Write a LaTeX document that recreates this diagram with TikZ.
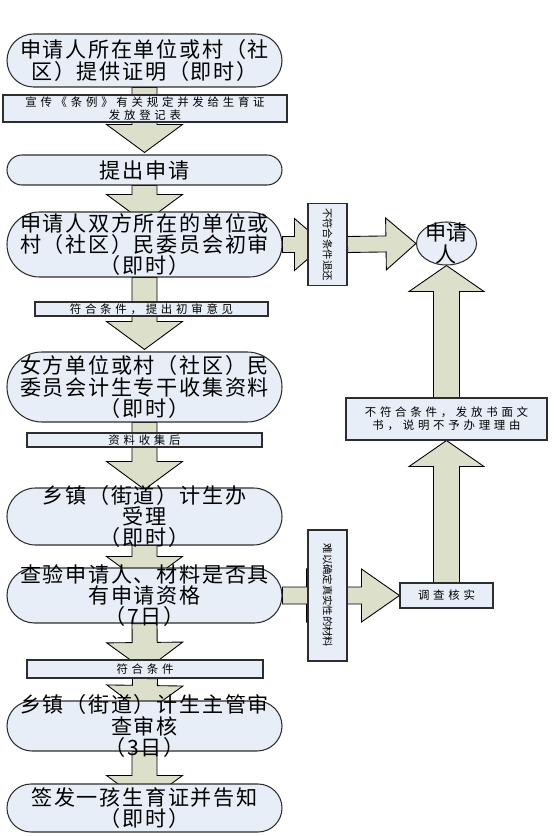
\documentclass[tikz,border=0pt]{standalone}
\usepackage{fontspec}
\newfontfamily\cjkmain[LetterSpace=8]{Noto Sans CJK SC}
\newfontfamily\cjksmall[LetterSpace=33]{Noto Sans CJK SC}
\newfontfamily\cjkplain{Noto Sans CJK SC}
\usepackage{tikz}
\usetikzlibrary{calc,backgrounds,shapes.geometric}
\definecolor{nodeblue}{RGB}{232,238,247}
\definecolor{arrowfill}{RGB}{220,223,202}
\definecolor{edgegray}{RGB}{45,45,45}

\newcommand{\blockarrow}[5]{%
  \coordinate (ba-s) at (#1);
  \coordinate (ba-t) at (#2);
  \coordinate (ba-b) at ($(ba-t)!#5!(ba-s)$);
  \draw[blk] ($(ba-s)!#3!90:(ba-t)$) -- ($(ba-b)!#3!90:(ba-t)$) -- ($(ba-b)!#4!90:(ba-t)$) -- (ba-t)
    -- ($(ba-b)!#4!-90:(ba-t)$) -- ($(ba-b)!#3!-90:(ba-t)$) -- ($(ba-s)!#3!-90:(ba-t)$) -- cycle;
}

\begin{document}
\begin{tikzpicture}[
  stadium/.style={rectangle,draw=edgegray,fill=nodeblue,line width=.6pt,
    minimum width=5.5cm,inner xsep=.1cm,inner ysep=-.15cm,align=center,
    font={\cjkmain\fontsize{12pt}{12pt}\selectfont\lineskiplimit=-\maxdimen}},
  lbox/.style={rectangle,draw=edgegray,fill=nodeblue,line width=.6pt,inner sep=0pt,
    align=center,font={\cjksmall\fontsize{6.5pt}{7.4pt}\selectfont\lineskiplimit=-\maxdimen}},
  vbox/.style={lbox,minimum width=.78cm,font=\cjkplain\fontsize{5.9pt}{6pt}\selectfont},
  blk/.style={draw=black,fill=arrowfill,line width=.5pt,line join=miter}]
\useasboundingbox (0,0) rectangle (11.06,-16.72);
\node[stadium,minimum height=1.06cm,rounded corners=.53cm] (req) at (2.89,-1.21) {申请人所在单位或村（社\\区）提供证明（即时）};
\node[stadium,minimum height=.60cm,rounded corners=.30cm] (apply) at (2.89,-3.40) {提出申请};
\node[stadium,minimum height=1.30cm,rounded corners=.65cm] (first) at (2.89,-4.89) {申请人双方所在的单位或\\村（社区）民委员会初审\\（即时）};
\node[stadium,minimum height=1.40cm,rounded corners=.70cm] (collect) at (2.89,-7.74) {女方单位或村（社区）民\\委员会计生专干收集资料\\（即时）};
\node[stadium,minimum height=1.14cm,rounded corners=.57cm] (accept) at (2.89,-10.33) {乡镇（街道）计生办\\受理\\（即时）};
\node[stadium,minimum height=1.10cm,rounded corners=.55cm] (check) at (2.89,-11.91) {查验申请人、材料是否具\\有申请资格\\（7日）};
\node[stadium,minimum height=1.00cm,rounded corners=.50cm] (review) at (2.89,-14.52) {乡镇（街道）计生主管审\\查审核\\（3日）};
\node[stadium,minimum height=.96cm,rounded corners=.48cm] (issue) at (2.89,-16.16) {签发一孩生育证并告知\\（即时）};
\node[lbox,minimum width=5.68cm,minimum height=.54cm] (publicize) at (2.90,-2.17) {宣传《条例》有关规定并发给生育证\\发放登记表};
\node[lbox,minimum width=4.66cm,minimum height=.28cm] (passfirst) at (3.03,-6.18) {符合条件，提出初审意见};
\node[lbox,minimum width=4.70cm,minimum height=.28cm] (collected) at (2.89,-8.80) {资料收集后};
\node[lbox,minimum width=4.72cm,minimum height=.36cm] (pass) at (2.90,-13.38) {符合条件};
\node[vbox,minimum height=1.64cm] (returnbox) at (6.55,-4.89) {\rotatebox{-90}{不符合条件退还}};
\node[vbox,minimum height=2.62cm] (unsure) at (6.55,-11.91) {\rotatebox{-90}{难以确定真实性的材料}};
\node[ellipse,draw=edgegray,fill=nodeblue,line width=.6pt,minimum width=1.2cm,minimum height=.86cm,
  inner sep=-.2cm,align=center,font={\cjkplain\fontsize{12pt}{12.5pt}\selectfont\lineskiplimit=-\maxdimen}] (applicant) at (8.93,-4.87) {申请\\人};
\node[lbox,minimum width=4.02cm,minimum height=.84cm] (refuse) at (8.93,-8.38) {不符合条件，发放书面文\\书，说明不予办理理由};
\node[lbox,minimum width=1.86cm,minimum height=.50cm] (investigate) at (8.93,-11.91) {调查核实};
\begin{scope}[on background layer]
\blockarrow{req.south}{$(apply.north)+(0,.04)$}{.25cm}{.76cm}{.56cm}
\blockarrow{apply.south}{$(first.north)+(0,-.22)$}{.25cm}{.76cm}{.56cm}
\blockarrow{first.south}{$(collect.north)+(0,.04)$}{.25cm}{.76cm}{.56cm}
\blockarrow{collect.south}{$(accept.north)+(0,-.04)$}{.25cm}{.76cm}{.56cm}
\blockarrow{accept.south}{$(check.north)+(0,-.34)$}{.25cm}{.76cm}{.56cm}
\blockarrow{check.south}{$(pass.north)+(0,-.22)$}{.25cm}{.76cm}{.56cm}
\blockarrow{pass.south}{$(review.north)+(0,-.26)$}{.25cm}{.76cm}{.56cm}
\blockarrow{review.south}{$(issue.north)+(0,-.40)$}{.25cm}{.76cm}{.56cm}
\blockarrow{first.east}{$(returnbox.west)+(.34,0)$}{.16cm}{.52cm}{.60cm}
\blockarrow{returnbox.east}{applicant.west}{.16cm}{.52cm}{.60cm}
\blockarrow{check.east}{$(unsure.west)+(.74,0)$}{.17cm}{.53cm}{.76cm}
\blockarrow{unsure.east}{investigate.west}{.17cm}{.53cm}{.76cm}
\blockarrow{investigate.north}{refuse.south}{.26cm}{.75cm}{.52cm}
\blockarrow{refuse.north}{applicant.south}{.26cm}{.75cm}{.52cm}
\end{scope}
\end{tikzpicture}
\end{document}
